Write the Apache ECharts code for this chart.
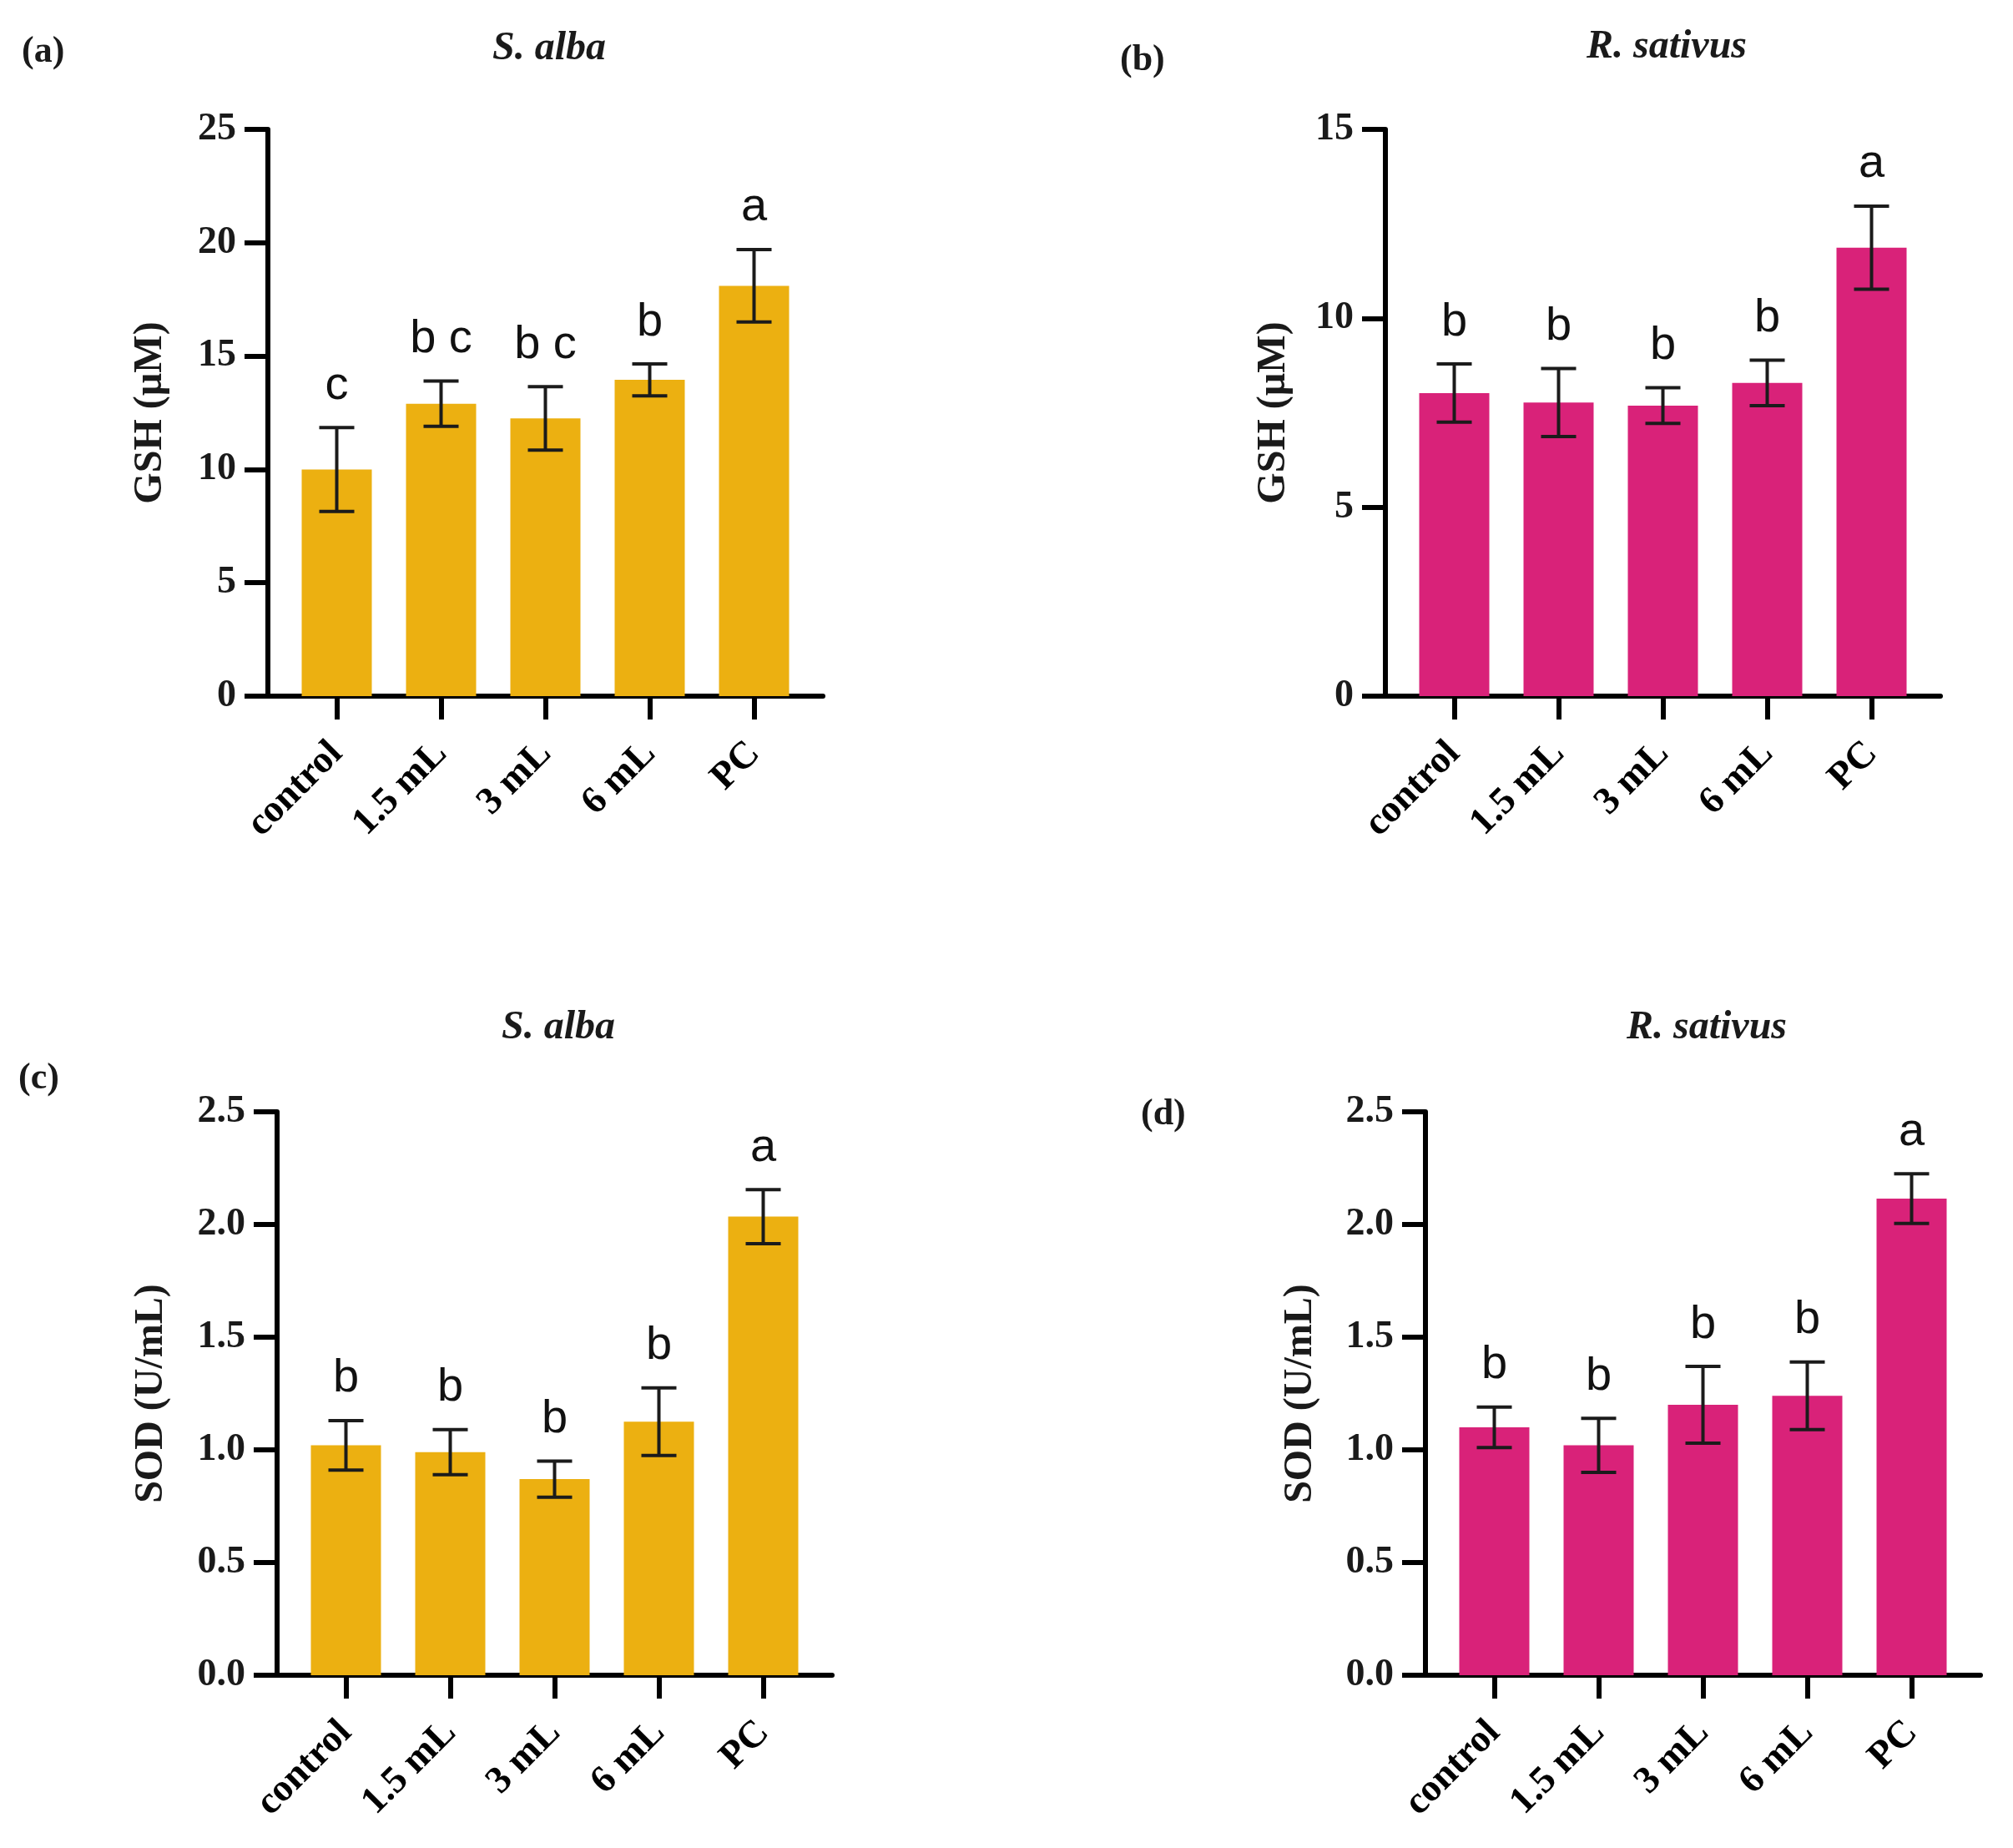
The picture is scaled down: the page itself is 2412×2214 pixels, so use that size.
<!DOCTYPE html>
<html>
<head>
<meta charset="utf-8">
<script src="https://cdn.jsdelivr.net/npm/echarts@6/dist/echarts.min.js"></script>
<style>
html,body{margin:0;padding:0;background:#fff;}
#chart{width:2412px;height:2214px;}
</style>
</head>
<body>
<div id="chart"></div>
<script>
// ---- data ----
const categories = ['control', '1.5 mL', '3 mL', '6 mL', 'PC'];

const gshAlbaMean = [10.0, 12.9, 12.25, 13.95, 18.1];
const gshAlbaErr = [1.85, 1.0, 1.4, 0.7, 1.6];
const gshAlbaLetters = ['c', 'b c', 'b c', 'b', 'a'];

const gshSativusMean = [8.02, 7.77, 7.69, 8.29, 11.87];
const gshSativusErr = [0.77, 0.9, 0.47, 0.6, 1.1];
const gshSativusLetters = ['b', 'b', 'b', 'b', 'a'];

const sodAlbaMean = [1.02, 0.99, 0.87, 1.125, 2.035];
const sodAlbaErr = [0.11, 0.1, 0.08, 0.15, 0.12];
const sodAlbaLetters = ['b', 'b', 'b', 'b', 'a'];

const sodSativusMean = [1.1, 1.02, 1.2, 1.24, 2.115];
const sodSativusErr = [0.09, 0.12, 0.17, 0.15, 0.11];
const sodSativusLetters = ['b', 'b', 'b', 'b', 'a'];

const gshAlbaTicks = [0, 25, 5];
const gshSativusTicks = [0, 15, 5];
const sodTicks = [0, 2.5, 0.5];

const panelTags = ['(a)', '(b)', '(c)', '(d)'];
const speciesNames = ['S. alba', 'R. sativus', 'S. alba', 'R. sativus'];
const yNames = ['GSH (µM)', 'GSH (µM)', 'SOD (U/mL)', 'SOD (U/mL)'];

// ---- styling / layout ----
const YELLOW = '#ECB011';
const MAGENTA = '#D92279';
const SERIF = '"Liberation Serif", "DejaVu Serif", serif';
const SANS = '"Liberation Sans", Arial, sans-serif';

const panels = [
  {mean: gshAlbaMean, err: gshAlbaErr, letters: gshAlbaLetters, ticks: gshAlbaTicks, color: YELLOW, decimals: 0,
   grid: {left: 321, top: 155, width: 665, height: 679}, nameGap: 116,
   title: {x: 653, y: 55}, tag: {x: 21, y: 60}},
  {mean: gshSativusMean, err: gshSativusErr, letters: gshSativusLetters, ticks: gshSativusTicks, color: MAGENTA, decimals: 0,
   grid: {left: 1660, top: 155, width: 665, height: 679}, nameGap: 109,
   title: {x: 1992, y: 53}, tag: {x: 1337, y: 70}},
  {mean: sodAlbaMean, err: sodAlbaErr, letters: sodAlbaLetters, ticks: sodTicks, color: YELLOW, decimals: 1,
   grid: {left: 332, top: 1332, width: 665, height: 675}, nameGap: 126,
   title: {x: 664, y: 1228}, tag: {x: 17, y: 1290}},
  {mean: sodSativusMean, err: sodSativusErr, letters: sodSativusLetters, ticks: sodTicks, color: MAGENTA, decimals: 1,
   grid: {left: 1708, top: 1332, width: 665, height: 675}, nameGap: 125,
   title: {x: 2040, y: 1228}, tag: {x: 1362, y: 1333}}
];

const catIdx = categories.map((c, i) => i);

const option = {
  animation: false,
  backgroundColor: '#ffffff',
  title: [],
  grid: [],
  xAxis: [],
  yAxis: [],
  series: []
};

panels.forEach((p, k) => {
  option.title.push({
    text: speciesNames[k], left: p.title.x, top: p.title.y - 25, textAlign: 'center',
    textStyle: {fontFamily: SERIF, fontStyle: 'italic', fontWeight: 'bold', fontSize: 48, color: '#1a1a1a'}
  });
  option.title.push({
    text: panelTags[k], left: p.tag.x, top: p.tag.y - 24,
    textStyle: {fontFamily: SERIF, fontWeight: 'bold', fontSize: 44, color: '#1a1a1a'}
  });
  option.grid.push(Object.assign({containLabel: false}, p.grid));
  option.xAxis.push({
    type: 'value', gridIndex: k, min: -0.66, max: 4.66,
    splitLine: {show: false},
    axisLine: {show: true, onZero: false, lineStyle: {color: '#000', width: 6}},
    axisTick: {show: true, customValues: catIdx, length: 28, lineStyle: {color: '#000', width: 6}},
    axisLabel: {
      show: true, customValues: catIdx, rotate: 45, margin: 62,
      formatter: v => categories[Math.round(v)] || '',
      fontFamily: SERIF, fontWeight: 'bold', fontSize: 46, color: '#000'
    }
  });
  option.yAxis.push({
    type: 'value', gridIndex: k, min: p.ticks[0], max: p.ticks[1], interval: p.ticks[2],
    name: yNames[k], nameLocation: 'middle', nameGap: p.nameGap, nameRotate: 90,
    nameTextStyle: {fontFamily: SERIF, fontWeight: 'bold', fontSize: 48, color: '#1a1a1a'},
    splitLine: {show: false},
    axisLine: {show: true, onZero: false, lineStyle: {color: '#000', width: 6}},
    axisTick: {show: true, length: 28, lineStyle: {color: '#000', width: 6}},
    axisLabel: {
      margin: 38, fontFamily: SERIF, fontWeight: 'bold', fontSize: 46, color: '#1a1a1a',
      formatter: v => v.toFixed(p.decimals)
    }
  });
  option.series.push({
    type: 'bar', xAxisIndex: k, yAxisIndex: k, barWidth: 84,
    itemStyle: {color: p.color},
    data: p.mean.map((v, i) => [i, v])
  });
  option.series.push({
    type: 'custom', xAxisIndex: k, yAxisIndex: k, z: 5,
    data: p.mean.map((v, i) => [i, v, p.err[i]]),
    renderItem: function (params, api) {
      const x = api.value(0), v = api.value(1), e = api.value(2);
      const top = api.coord([x, v + e]);
      const bot = api.coord([x, v - e]);
      const hw = 21;
      const st = {stroke: '#1b1b1b', lineWidth: 4};
      return {
        type: 'group',
        children: [
          {type: 'line', shape: {x1: top[0], y1: top[1], x2: bot[0], y2: bot[1]}, style: st},
          {type: 'line', shape: {x1: top[0] - hw, y1: top[1], x2: top[0] + hw, y2: top[1]}, style: st},
          {type: 'line', shape: {x1: bot[0] - hw, y1: bot[1], x2: bot[0] + hw, y2: bot[1]}, style: st},
          {type: 'text', x: top[0], y: top[1] - 22,
           style: {text: p.letters[params.dataIndex], fill: '#111', font: 'normal 56px ' + SANS,
                   align: 'center', verticalAlign: 'bottom'}}
        ]
      };
    }
  });
});

const chart = echarts.init(document.getElementById('chart'), null, {renderer: 'canvas'});
chart.setOption(option);
</script>
</body>
</html>
